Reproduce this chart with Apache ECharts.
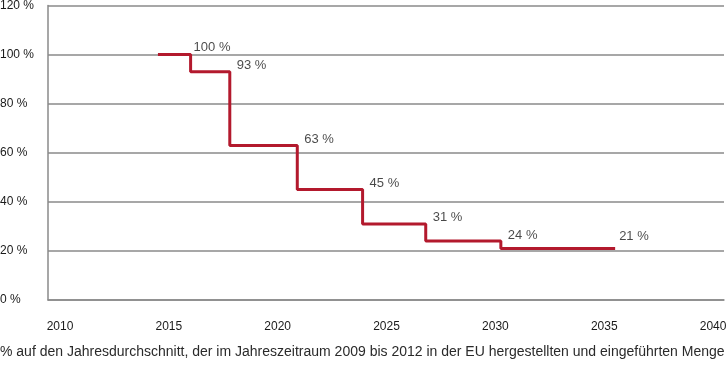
<!DOCTYPE html>
<html><head><meta charset="utf-8">
<script src="https://cdn.jsdelivr.net/npm/echarts@6/dist/echarts.min.js"></script>
<style>html,body{margin:0;padding:0;background:#fff}#c{width:727px;height:366px}</style>
</head><body><div id="c"></div>
<script>
// Step positions (year at which each level starts) and the final end year
const stepYears = [2014.5, 2016, 2017.8, 2020.9, 2023.9, 2026.8, 2030.25];
const endYear = 2035.5;
const values = [100, 93, 63, 45, 31, 24, 21];
const xTickLabels = [2010, 2015, 2020, 2025, 2030, 2035, 2040];
const yTicks = [0, 20, 40, 60, 80, 100, 120];
const footnote = '% auf den Jahresdurchschnitt, der im Jahreszeitraum 2009 bis 2012 in der EU hergestellten und eingeführten Menge';

const FONT = '"Liberation Sans", Arial, sans-serif';

const lineData = stepYears.map((x, i) => [x, values[i]]);
lineData.push([endYear, values[values.length - 1]]);
// label at the right end of each level
const labelData = values.map((v, i) => {
  const xEnd = i + 1 < stepYears.length ? stepYears[i + 1] : endYear;
  const first = i === 0, last = i === values.length - 1;
  return { value: [xEnd, v], label: { offset: first ? [3, -7] : last ? [4, -12] : [7, -6] } };
});

const chart = echarts.init(document.getElementById('c'), null, { renderer: 'canvas' });
chart.setOption({
  animation: false,
  backgroundColor: '#fff',
  grid: { left: 48, right: 3, top: 5.5, bottom: 66, containLabel: false, outerBoundsMode: 'none' },
  title: {
    text: footnote, left: 0, bottom: 7, padding: 0,
    textStyle: { fontFamily: FONT, fontSize: 14, fontWeight: 'normal', color: '#2a2a2a' }
  },
  xAxis: {
    type: 'value', min: 2009.45, max: 2040.5,
    splitLine: { show: false },
    axisTick: { show: false },
    axisLine: { show: true, onZero: false, lineStyle: { color: '#8a8a8a', width: 1.5 } },
    axisLabel: {
      customValues: xTickLabels, margin: 21,
      fontFamily: FONT, fontSize: 12, color: '#1a1a1a', formatter: v => String(v)
    }
  },
  yAxis: {
    type: 'value', min: 0, max: 120, interval: 20,
    axisLine: { show: true, lineStyle: { color: '#8a8a8a', width: 1.5 } },
    axisTick: { show: false },
    splitLine: { show: true, lineStyle: { color: '#8a8a8a', width: 1.5 } },
    axisLabel: {
      customValues: yTicks, align: 'left', margin: 48,
      fontFamily: FONT, fontSize: 12, color: '#1a1a1a', formatter: v => v + ' %',
      padding: [3, 0, 0, 0]
    }
  },
  series: [
    {
      type: 'line', step: 'end', data: lineData, symbol: 'none',
      lineStyle: { color: '#b3192d', width: 3 }, z: 3
    },
    {
      type: 'scatter', data: labelData, symbolSize: 0, silent: true,
      label: {
        show: true, position: 'right', distance: 0,
        fontFamily: FONT, fontSize: 13, color: '#1a1a1a',
        formatter: p => p.value[1] + ' %'
      }, z: 4
    }
  ]
});
</script></body></html>
